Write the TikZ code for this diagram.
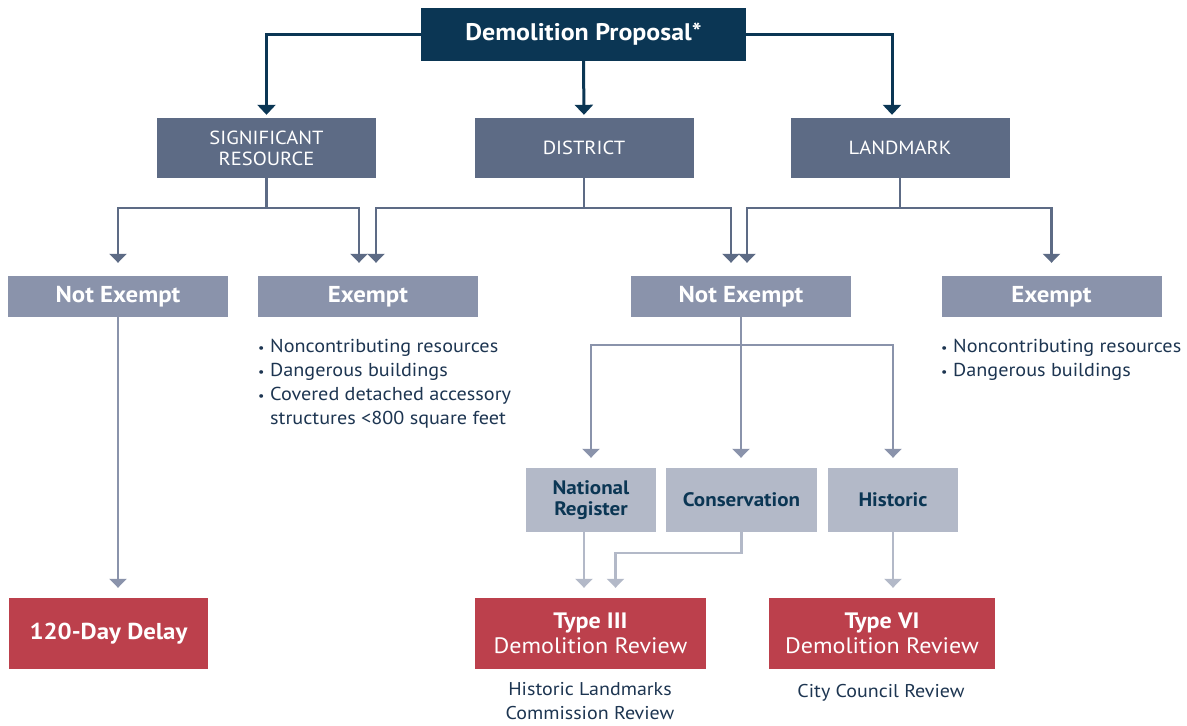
\documentclass[tikz,border=0pt]{standalone}
\usepackage{fontspec}
\setmainfont{PT Sans}[FakeStretch=1.08]
\usetikzlibrary{arrows.meta,calc}
\definecolor{navy}{HTML}{0B3654}
\definecolor{slate}{HTML}{5D6B85}
\definecolor{greyblue}{HTML}{8A93AB}
\definecolor{lightgrey}{HTML}{B3B9C8}
\definecolor{redbox}{HTML}{BC404C}
\definecolor{txtnavy}{HTML}{1D3551}
\newcommand{\blt}{\makebox[12pt][l]{\fontsize{13}{13}\selectfont•}}
\begin{document}
\begin{tikzpicture}[x=1pt,y=-1pt,
  box/.style={rectangle,inner sep=0pt,align=center},
  topbox/.style={box,fill=navy,text=white,minimum width=325pt,minimum height=53pt,font=\bfseries\fontsize{24}{28}\selectfont},
  catbox/.style={box,fill=slate,text=white,minimum width=219pt,minimum height=60pt,font=\fontsize{19}{21}\selectfont},
  exbox/.style={box,fill=greyblue,text=white,minimum width=220pt,minimum height=41pt,font=\bfseries\fontsize{23}{25}\selectfont},
  subbox/.style={box,fill=lightgrey,text=navy,minimum height=64pt,font=\bfseries\fontsize{19.5}{21}\selectfont},
  redb/.style={box,fill=redbox,text=white,minimum height=71pt,font=\fontsize{22.3}{25}\selectfont},
  listtxt/.style={inner sep=0pt,anchor=north west,align=left,text=txtnavy,font=\fontsize{18.7}{24}\selectfont},
  notetxt/.style={inner sep=0pt,align=center,text=txtnavy,font=\fontsize{18.5}{24}\selectfont},
  navyarr/.style={draw=navy,line width=3pt,-{Triangle[width=18pt,length=10pt]},shorten >=3pt},
  slarr/.style={draw=slate,line width=2.5pt,-{Triangle[width=17pt,length=9pt]},shorten >=13pt},
  gbarr/.style={draw=greyblue,line width=2.5pt,-{Triangle[width=17pt,length=9pt]},shorten >=10pt},
  lgarr/.style={draw=lightgrey,line width=2.5pt,-{Triangle[width=17pt,length=9pt]},shorten >=10pt}
]
\useasboundingbox (0,0) rectangle (1187,726);

% nodes
\node[topbox] (dp) at (583.5,34) {Demolition Proposal*};
\node[catbox] (sig) at (266.5,148) {SIGNIFICANT\\RESOURCE};
\node[catbox] (dist) at (584,148) {DISTRICT};
\node[catbox] (lm) at (900,148) {LANDMARK};

\node[exbox] (ne1) at (118,296.5) {Not Exempt};
\node[exbox] (ex1) at (368,296.5) {Exempt};
\node[exbox] (ne2) at (741,296.5) {Not Exempt};
\node[exbox] (ex2) at (1051.5,296.5) {Exempt};

\node[listtxt] (l1) at (258,339) {\blt Noncontributing resources\\
\blt Dangerous buildings\\
\blt Covered detached accessory\\
\makebox[12pt][l]{}structures <800 square feet};
\node[listtxt] (l2) at (941,339) {\blt Noncontributing resources\\
\blt Dangerous buildings};

\node[subbox,minimum width=130pt] (nr) at (591,500) {National\\Register};
\node[subbox,minimum width=151pt] (cons) at (741.5,500) {Conservation};
\node[subbox,minimum width=130pt] (hist) at (893,500) {Historic};

\node[redb,minimum width=199pt,font=\bfseries\fontsize{23}{26}\selectfont] (delay) at (108.5,633.5) {120-Day Delay};
\node[redb,minimum width=231pt] (t3) at (590.5,633.5) {\textbf{Type III}\\Demolition Review};
\node[redb,minimum width=226pt] (t6) at (882,633.5) {\textbf{Type VI}\\Demolition Review};

\node[notetxt] (hlc) at (590,701) {Historic Landmarks\\Commission Review};
\node[notetxt] (ccr) at (881,693) {City Council Review};

% top connectors
\draw[navyarr] (dp.west) -| (sig.north);
\draw[navyarr] (dp.south) -- (dist.north);
\draw[navyarr] (dp.east) -| ([xshift=-8pt]lm.north);

% second level
\draw[slarr] (sig.south) -- ++(0,30) -| (ne1.north);
\draw[slarr] (sig.south) -- ++(0,30) -| ([xshift=-9pt]ex1.north);
\draw[slarr] (dist.south) -- ++(0,30) -| ([xshift=8pt]ex1.north);
\draw[slarr] (dist.south) -- ++(0,30) -| ([xshift=-10pt]ne2.north);
\draw[slarr] (lm.south) -- ++(0,30) -| ([xshift=6pt]ne2.north);
\draw[slarr] (lm.south) -- ++(0,30) -| (ex2.north);

% not exempt branches
\draw[gbarr] (ne1.south) -- (ne1.south |- delay.north);
\draw[gbarr] (ne2.south) -- ++(0,28) -| (nr.north);
\draw[gbarr] (ne2.south) -- (ne2.south |- cons.north);
\draw[gbarr] (ne2.south) -- ++(0,28) -| (hist.north);

% to reviews
\coordinate (nrs) at ([xshift=-7pt]nr.south);
\draw[lgarr] (nrs) -- (nrs |- t3.north);
\draw[lgarr] (cons.south) -- ++(0,21) -| ([xshift=25pt]t3.north);
\draw[lgarr] (hist.south) -- (hist.south |- t6.north);
\end{tikzpicture}
\end{document}
